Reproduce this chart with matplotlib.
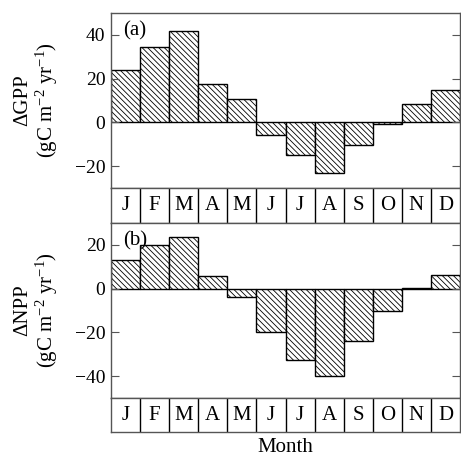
import numpy as np
import matplotlib.pyplot as plt

plt.rcParams['font.family'] = ['Liberation Serif', 'DejaVu Serif']
plt.rcParams['mathtext.fontset'] = 'custom'
plt.rcParams['mathtext.rm'] = 'Liberation Serif'
plt.rcParams['mathtext.it'] = 'Liberation Serif:italic'
plt.rcParams['hatch.linewidth'] = 0.6

months = ['J', 'F', 'M', 'A', 'M', 'J', 'J', 'A', 'S', 'O', 'N', 'D']
dgpp = [24.1, 34.3, 41.6, 17.7, 10.7, -5.6, -15.1, -23.2, -10.2, -0.7, 8.6, 14.6]
dnpp = [13.3, 19.9, 23.7, 5.6, -3.8, -20.0, -32.7, -39.9, -24.0, -10.4, 0.3, 6.1]

W, H = 461, 457
fig = plt.figure(figsize=(W / 100, H / 100), dpi=100)

def px(x0, y0, x1, y1):
    # pixel box (top-left origin) -> figure fraction
    return [x0 / W, 1 - y1 / H, (x1 - x0) / W, (y1 - y0) / H]

x = np.arange(12)
spine_c = '#555555'

def panel(box, rowbox, vals, ylim, yticks, label, name):
    ax = fig.add_axes(px(*box))
    ax.bar(x, vals, width=1.0, color='white', edgecolor='black',
           hatch='\\' * 6, linewidth=1.0)
    ax.set_xlim(-0.5, 11.5)
    ax.set_ylim(*ylim)
    ax.set_yticks(yticks)
    ax.set_xticks([])
    ax.tick_params(axis='y', direction='in', length=6, width=0.8,
                   color=spine_c, labelsize=14, right=True, pad=4)
    for s in ax.spines.values():
        s.set_color(spine_c)
        s.set_linewidth(1.0)
    ax.text(0.035, 0.955, label, transform=ax.transAxes, fontsize=15,
            va='top', ha='left')
    ax.set_ylabel(name + '\n(gC m$^{\\mathrm{-2}}$ yr$^{\\mathrm{-1}}$)',
                  fontsize=15, linespacing=1.05, labelpad=11)

    row = fig.add_axes(px(*rowbox))
    row.set_xlim(-0.5, 11.5)
    row.set_ylim(0, 1)
    row.set_xticks([])
    row.set_yticks([])
    for s in row.spines.values():
        s.set_color(spine_c)
        s.set_linewidth(1.0)
    for i in range(1, 12):
        row.axvline(i - 0.5, color='black', linewidth=1.0)
    for i, m in enumerate(months):
        row.text(i, 0.5, m, ha='center', va='center', fontsize=15)
    return ax, row

panel((111, 13, 460, 188), (111, 188, 460, 223), dgpp, (-30, 50),
      [-20, 0, 20, 40], '(a)', '\u0394GPP')
ax_b, row_b = panel((111, 223, 460, 398), (111, 398, 460, 432), dnpp,
                    (-50, 30), [-40, -20, 0, 20], '(b)', '\u0394NPP')
row_b.set_xlabel('Month', fontsize=15, labelpad=4)

fig.savefig('out.png', dpi=100)
